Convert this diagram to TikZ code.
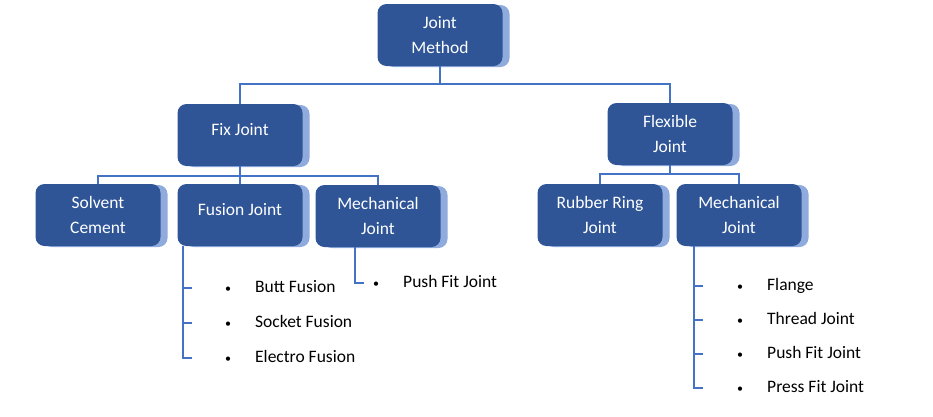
\documentclass[tikz,border=0pt]{standalone}
\usepackage{fontspec}
\setmainfont{Carlito}
\usetikzlibrary{positioning,calc,shadows}
\definecolor{boxblue}{HTML}{2F5597}
\definecolor{shadeblue}{HTML}{8FAADC}
\definecolor{lineblue}{HTML}{4472C4}
\newcommand{\dotmark}{\makebox[31pt][l]{\hspace{1pt}\fontsize{12}{12}\selectfont\textbullet}}
\tikzset{
  box/.style={rounded corners=9pt, fill=boxblue, text=white, minimum width=125pt,
    minimum height=62pt, align=center, inner sep=2pt,
    font=\fontsize{17.5}{25}\selectfont,
    general shadow={fill=shadeblue, shadow xshift=7pt, shadow yshift=-1pt}},
  onebox/.style={box, text depth=12pt},
  link/.style={draw=lineblue, line width=1.7pt},
  item/.style={anchor=west, inner sep=0pt, text height=12pt, text depth=4pt,
    font=\fontsize{17.5}{21}\selectfont}
}

\begin{document}
\begin{tikzpicture}[x=1pt,y=-1pt]
  \useasboundingbox (0,0) rectangle (933,416);
  \node[box] (method) at (440,35) {Joint\\Method};
  \node[onebox] (fix) at (240,135) {Fix Joint};
  \node[box] (flex) at (670,134) {Flexible\\Joint};
  \node[box] (solvent) at (98,215) {Solvent\\Cement};
  \node[onebox] (fusion) at (240,215) {Fusion Joint};
  \node[box] (mechfix) at (378,216) {Mechanical\\Joint};
  \node[box] (rubber) at (600,215) {Rubber Ring\\Joint};
  \node[box] (mechflex) at (739,215) {Mechanical\\Joint};

  \draw[link] (method.south) -- ++(0,18) -| (fix.north);
  \draw[link] (method.south) -- ++(0,18) -| (flex.north);
  \draw[link] (fix.south) -- ++(0,10) -| (solvent.north);
  \draw[link] (fix.south) -- (fusion.north);
  \draw[link] (fix.south) -- ++(0,10) -| (mechfix.north);
  \draw[link] (flex.south) -- ++(0,9) -| (rubber.north);
  \draw[link] (flex.south) -- ++(0,9) -| (mechflex.north);

  \coordinate (fusionbar) at ($(fusion.south west)+(6,0)$);
  \foreach \t [count=\i] in {Butt Fusion,Socket Fusion,Electro Fusion} {
    \node[item] (fusion\i) at (224,253+35*\i) {\dotmark\t};
    \draw[link] (fusionbar) -- (fusionbar |- fusion\i.west) -- ++(9,0);
  }

  \coordinate (mechfixbar) at ($(mechfix.south west)+(40,0)$);
  \node[item] (mechfix1) at (372,283) {\dotmark Push Fit Joint};
  \draw[link] (mechfixbar) -- (mechfixbar |- mechfix1.west) -- ++(9,0);

  \coordinate (mechflexbar) at ($(mechflex.south west)+(17.5,0)$);
  \foreach \t [count=\i] in {Flange,Thread Joint,Push Fit Joint,Press Fit Joint} {
    \node[item] (mechflex\i) at (736,252+34*\i) {\dotmark\t};
    \draw[link] (mechflexbar) -- (mechflexbar |- mechflex\i.west) -- ++(9,0);
  }
\end{tikzpicture}
\end{document}
